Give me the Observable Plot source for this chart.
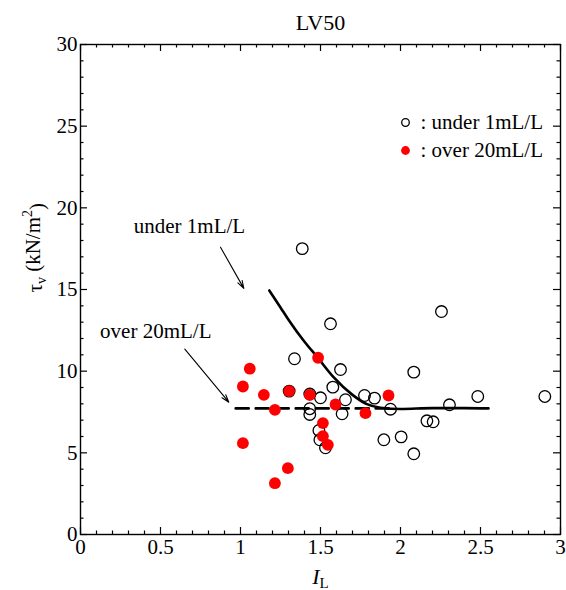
<!DOCTYPE html>
<html><head><meta charset="utf-8">
<script src="https://cdn.jsdelivr.net/npm/d3@7"></script>
<script src="https://cdn.jsdelivr.net/npm/@observablehq/plot@0.6"></script>
<style>html,body{margin:0;padding:0;background:#fff}</style>
</head><body><div id="chart"></div>
<script>
// ---- data ----
const underIL  = [1.386, 1.5625, 2.256, 2.083, 1.9375, 2.306, 2.483, 2.902, 2.165, 2.204, 1.896, 2.004, 2.083, 1.775, 1.8375, 1.3375, 1.625, 1.577, 1.656, 1.635, 1.5, 1.433, 1.433, 1.49, 1.496, 1.531, 1.304, 1.433];
const underTau = [17.5, 12.9, 13.65, 9.94, 7.67, 7.94, 8.45, 8.45, 6.96, 6.9, 5.8, 5.98, 4.94, 8.51, 8.35, 10.76, 10.1, 9.02, 8.25, 7.39, 8.37, 7.7, 7.35, 6.37, 5.8, 5.31, 8.78, 8.6];
const overIL  = [1.058, 1.015, 1.146, 1.215, 1.304, 1.433, 1.485, 1.594, 1.515, 1.515, 1.546, 1.015, 1.296, 1.215, 1.925, 1.781];
const overTau = [10.15, 9.06, 8.55, 7.63, 8.78, 8.55, 10.82, 7.96, 6.82, 6.02, 5.49, 5.59, 4.06, 3.14, 8.51, 7.43];
const fitUnderIL  = [1.18, 1.25, 1.3, 1.4, 1.48, 1.58, 1.7, 1.79, 1.875, 2.0, 2.2, 2.4, 2.55];
const fitUnderTau = [14.94, 13.9, 13.15, 11.8, 10.86, 9.65, 8.55, 7.98, 7.76, 7.68, 7.74, 7.74, 7.72];
const fitOverIL  = [0.97, 1.95];
const fitOverTau = [7.72, 7.72];
const xTicks = [0, 0.5, 1, 1.5, 2, 2.5, 3];
const xTickLabels = ["0", "0.5", "1", "1.5", "2", "2.5", "3"];
const yTicks = [0, 5, 10, 15, 20, 25, 30];
const yTickLabels = ["0", "5", "10", "15", "20", "25", "30"];
const xMinor = [0.1,0.2,0.3,0.4,0.6,0.7,0.8,0.9,1.1,1.2,1.3,1.4,1.6,1.7,1.8,1.9,2.1,2.2,2.3,2.4,2.6,2.7,2.8,2.9];
const yMinor = [1,2,3,4,6,7,8,9,11,12,13,14,16,17,18,19,21,22,23,24,26,27,28,29];
const titleText = "LV50";
const legendLabels = [": under 1mL/L", ": over 20mL/L"];
const annotationTexts = ["under 1mL/L", "over 20mL/L"];
const annotationX = [0.681, 0.4706];
const annotationY = [18.86, 12.46];
const arrowX1 = [0.875, 0.652], arrowY1 = [17.59, 11.35];
const arrowX2 = [1.0206, 0.927], arrowY2 = [15.07, 8.1];
const yLabelText = "τv (kN/m2)";
const xLabelText = "IL";

// ---- layout ----
const W = 566, H = 590, mL = 80, mR = 6, mT = 44, mB = 56;
const pw = W - mL - mR, ph = H - mT - mB;
const majorLen = 7, minorLen = 3.5;

const under = underIL.map((x, i) => ({x, y: underTau[i]}));
const over = overIL.map((x, i) => ({x, y: overTau[i]}));
const fitU = fitUnderIL.map((x, i) => ({x, y: fitUnderTau[i]}));
const fitO = fitOverIL.map((x, i) => ({x, y: fitOverTau[i]}));
const ann = annotationTexts.map((t, i) => ({t, x: annotationX[i], y: annotationY[i]}));
const arr = arrowX1.map((x1, i) => ({x1, y1: arrowY1[i], x2: arrowX2[i], y2: arrowY2[i]}));
const xt = xTicks.map((v, i) => ({v, label: xTickLabels[i]}));
const yt = yTicks.map((v, i) => ({v, label: yTickLabels[i]}));

function tickMarks(vals, len) {
  return [
    Plot.tickX(vals, {x: d => d, insetTop: ph - len, stroke: "black", strokeWidth: 1.2}),
    Plot.tickX(vals, {x: d => d, insetBottom: ph - len, stroke: "black", strokeWidth: 1.2})
  ];
}
function tickMarksY(vals, len) {
  return [
    Plot.tickY(vals, {y: d => d, insetRight: pw - len, stroke: "black", strokeWidth: 1.2}),
    Plot.tickY(vals, {y: d => d, insetLeft: pw - len, stroke: "black", strokeWidth: 1.2})
  ];
}

const svg = Plot.plot({
  width: W, height: H,
  marginLeft: mL, marginRight: mR, marginTop: mT, marginBottom: mB,
  style: {fontFamily: "'Liberation Serif', 'Times New Roman', serif", fontSize: "21px", background: "white", color: "black"},
  x: {domain: [0, 3], axis: null},
  y: {domain: [0, 30], axis: null},
  marks: [
    ...tickMarks(xMinor, minorLen),
    ...tickMarks(xTicks, majorLen),
    ...tickMarksY(yMinor, minorLen),
    ...tickMarksY(yTicks, majorLen),
    Plot.frame({stroke: "black", strokeWidth: 1.4}),
    Plot.text(xt, {x: "v", text: "label", frameAnchor: "bottom", lineAnchor: "top", dy: 5, fill: "black"}),
    Plot.text(yt, {y: "v", text: "label", frameAnchor: "left", dx: -3, textAnchor: "end", lineAnchor: "middle", fill: "black"}),
    Plot.line(fitO, {x: "x", y: "y", stroke: "black", strokeWidth: 2.6, strokeDasharray: "13,7"}),
    Plot.line(fitU, {x: "x", y: "y", stroke: "black", strokeWidth: 2.6, curve: "monotone-x"}),
    Plot.dot(under, {x: "x", y: "y", r: 5.8, stroke: "black", strokeWidth: 1.3, fill: "none"}),
    Plot.dot(over, {x: "x", y: "y", r: 5.9, fill: "#ff0000", stroke: "none"}),
    Plot.arrow(arr, {x1: "x1", y1: "y1", x2: "x2", y2: "y2", stroke: "black", strokeWidth: 1.1, headLength: 11, headAngle: 35}),
    Plot.text(ann, {x: "x", y: "y", text: "t", fill: "black", lineAnchor: "middle"}),
    // legend
    Plot.dot([legendLabels[0]], {frameAnchor: "top-right", dx: -155, dy: 78, r: 3.8, stroke: "black", strokeWidth: 1.3, fill: "none"}),
    Plot.dot([legendLabels[1]], {frameAnchor: "top-right", dx: -155, dy: 106, r: 4.4, fill: "#ff0000"}),
    Plot.text([legendLabels[0]], {text: d => d, frameAnchor: "top-right", dx: -140, dy: 78, textAnchor: "start", lineAnchor: "middle", fill: "black"}),
    Plot.text([legendLabels[1]], {text: d => d, frameAnchor: "top-right", dx: -140, dy: 106, textAnchor: "start", lineAnchor: "middle", fill: "black"}),
    // title and axis labels
    Plot.text([titleText], {text: d => d, frameAnchor: "top", dy: -22, lineAnchor: "middle", fill: "black", fontSize: 22}),
    Plot.text([yLabelText], {text: d => d, frameAnchor: "left", dx: -45, dy: 3, rotate: -90, lineAnchor: "middle", fill: "black", fontSize: 21}),
    Plot.text([xLabelText], {text: d => d, frameAnchor: "bottom", dy: 42, lineAnchor: "middle", fill: "black", fontSize: 22})
  ]
});

// rich formatting of axis labels (subscripts / superscripts)
d3.select(svg).selectAll("text").each(function() {
  const t = this.textContent;
  const s = d3.select(this);
  if (t === yLabelText) {
    s.text(null);
    s.append("tspan").text("τ");
    s.append("tspan").attr("dy", "0.3em").attr("font-size", 14).text("v");
    s.append("tspan").attr("dy", "-0.3em").text(" (kN/m");
    s.append("tspan").attr("dy", "-0.55em").attr("font-size", 14).text("2");
    s.append("tspan").attr("dy", "0.55em").text(")");
  } else if (t === xLabelText) {
    s.text(null);
    s.append("tspan").attr("font-style", "italic").text("I");
    s.append("tspan").attr("dy", "0.3em").attr("font-size", 15).text("L");
  }
});

document.getElementById("chart").appendChild(svg);
</script>
</body></html>
